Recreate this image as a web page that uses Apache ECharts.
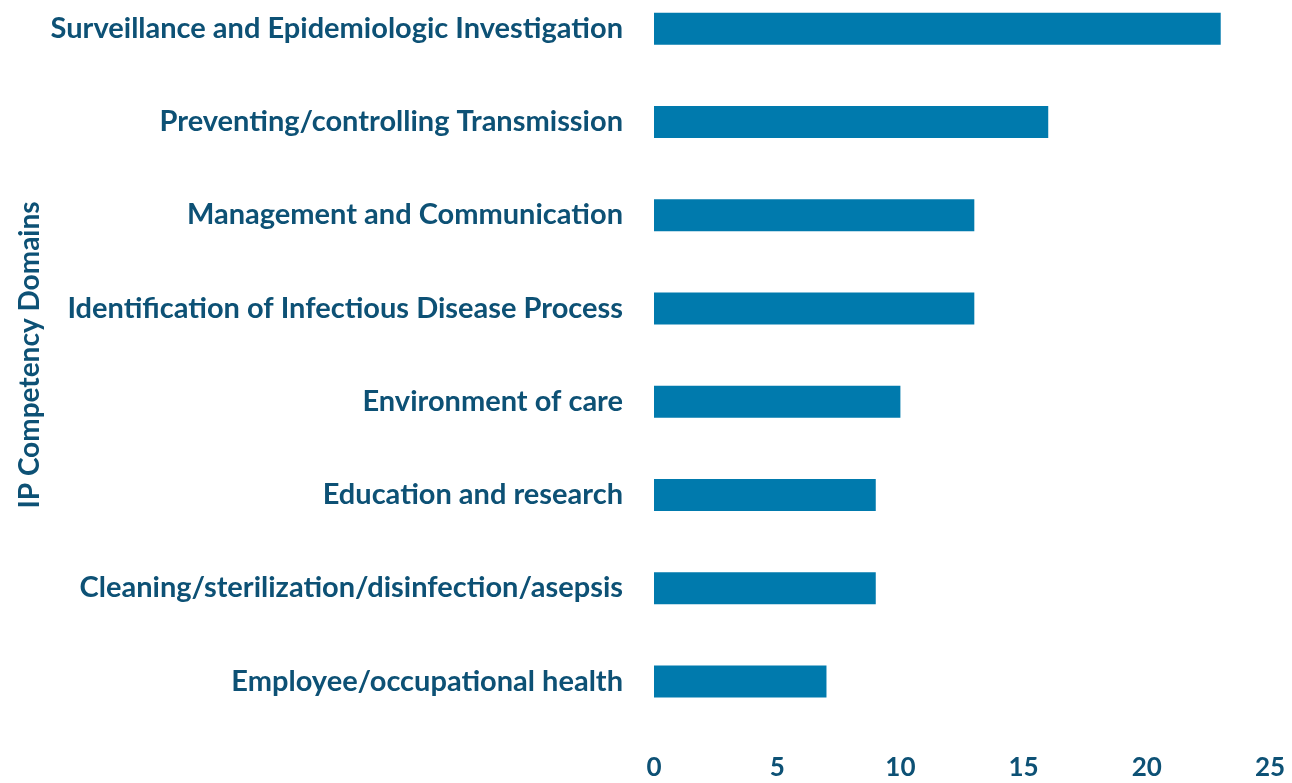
<!DOCTYPE html>
<html>
<head>
    <meta charset="utf-8">
    <title>IP Competency Domains</title>
    <script src="https://cdn.jsdelivr.net/npm/echarts@6/dist/echarts.min.js"></script>
    <style>
        html, body { margin: 0; padding: 0; background: #fff; }
    </style>
</head>
<body>
    <div id="chart" style="width: 1292px;height: 783px;"></div>
</body>

<script>
    // bottom to top, as drawn by the category axis
    var domains = [
        'Employee/occupational health',
        'Cleaning/sterilization/disinfection/asepsis',
        'Education and research',
        'Environment of care',
        'Identification of Infectious Disease Process',
        'Management and Communication',
        'Preventing/controlling Transmission',
        'Surveillance and Epidemiologic Investigation'
    ];
    var counts = [7, 9, 9, 10, 13, 13, 16, 23];
    var xTicks = [0, 5, 10, 15, 20, 25];

    var textColor = '#0d5175';
    var fontName = 'Lato';

    var option = {
        animation: false,
        grid: {
            left: 654,
            right: 22,
            top: -18,
            bottom: 55,
            outerBoundsMode: 'none'
        },
        xAxis: {
            type: 'value',
            min: xTicks[0],
            max: xTicks[xTicks.length - 1],
            interval: xTicks[1] - xTicks[0],
            axisLine: { show: false },
            axisTick: { show: false },
            splitLine: { show: false },
            axisLabel: {
                color: textColor,
                fontFamily: fontName,
                fontWeight: 'bold',
                fontSize: 26,
                margin: 27
            }
        },
        yAxis: {
            type: 'category',
            data: domains,
            name: 'IP Competency Domains',
            nameLocation: 'middle',
            nameGap: 610,
            nameTextStyle: {
                color: textColor,
                fontFamily: fontName,
                fontWeight: 'bold',
                fontSize: 28
            },
            axisLine: { show: false },
            axisTick: { show: false },
            axisLabel: {
                color: textColor,
                fontFamily: fontName,
                fontWeight: 'bold',
                fontSize: 29,
                margin: 31
            }
        },
        series: [{
            type: 'bar',
            data: counts,
            barWidth: 32,
            itemStyle: { color: '#007aad' }
        }]
    };

    var chart = echarts.init(document.getElementById('chart'));
    chart.setOption(option);
</script>
</html>
